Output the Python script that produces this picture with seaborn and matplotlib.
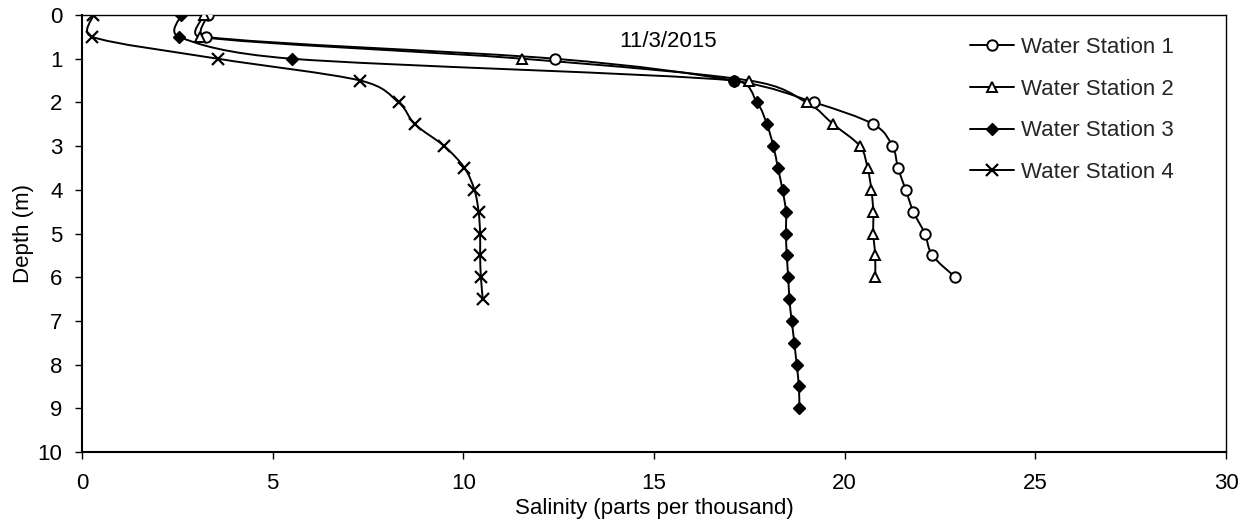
import math
import matplotlib
matplotlib.use("Agg")
import matplotlib.pyplot as plt
from matplotlib.path import Path
from matplotlib.patches import PathPatch
from matplotlib.lines import Line2D
import seaborn as sns
import pandas as pd

# Salinity profiles (parts per thousand) by depth (m) for each station
depth_s1 = [0, 0.5, 1, 1.5, 2, 2.5, 3, 3.5, 4, 4.5, 5, 5.5, 6]
sal_s1 = [3.3, 3.25, 12.4, 17.1, 19.2, 20.75, 21.25, 21.4, 21.6, 21.8, 22.1, 22.3, 22.9]

depth_s2 = [0, 0.5, 1, 1.5, 2, 2.5, 3, 3.5, 4, 4.5, 5, 5.5, 6]
sal_s2 = [3.2, 3.1, 11.55, 17.5, 19.0, 19.7, 20.4, 20.6, 20.7, 20.75, 20.75, 20.8, 20.8]

depth_s3 = [0, 0.5, 1, 1.5, 2, 2.5, 3, 3.5, 4, 4.5, 5, 5.5, 6, 6.5, 7, 7.5, 8, 8.5, 9]
sal_s3 = [2.6, 2.55, 5.5, 17.1, 17.7, 17.96, 18.13, 18.25, 18.37, 18.46, 18.46, 18.48,
          18.52, 18.55, 18.61, 18.68, 18.74, 18.8, 18.81]

depth_s4 = [0, 0.5, 1, 1.5, 2, 2.5, 3, 3.5, 4, 4.5, 5, 5.5, 6, 6.5]
sal_s4 = [0.3, 0.27, 3.56, 7.3, 8.3, 8.73, 9.5, 10.03, 10.29, 10.4, 10.44, 10.44, 10.46, 10.51]

station_names = ["Water Station 1", "Water Station 2", "Water Station 3", "Water Station 4"]
date_label = "11/3/2015"

# approximate screen scale (px per unit) used to keep curve tension even on both axes
SX, SY = 38.13, 43.7


def smooth_path(xs, ys, tension=1 / 6, limit=0.6):
    """Cubic Bezier path through the points with limited tangent handles."""
    pts = [(x * SX, y * SY) for x, y in zip(xs, ys)]
    n = len(pts)

    def handle(a, b, seg_len):
        dx, dy = (b[0] - a[0]) * tension, (b[1] - a[1]) * tension
        ln = math.hypot(dx, dy)
        cap = limit * seg_len
        if ln > cap and ln > 0:
            dx, dy = dx * cap / ln, dy * cap / ln
        return dx, dy

    verts = [pts[0]]
    codes = [Path.MOVETO]
    for i in range(n - 1):
        p0 = pts[i - 1] if i > 0 else pts[i]
        p1 = pts[i]
        p2 = pts[i + 1]
        p3 = pts[i + 2] if i + 2 < n else pts[i + 1]
        seg = math.hypot(p2[0] - p1[0], p2[1] - p1[1])
        h1 = handle(p0, p2, seg)
        h2 = handle(p1, p3, seg)
        c1 = (p1[0] + h1[0], p1[1] + h1[1])
        c2 = (p2[0] - h2[0], p2[1] - h2[1])
        verts += [c1, c2, p2]
        codes += [Path.CURVE4] * 3
    verts = [(x / SX, y / SY) for x, y in verts]
    return Path(verts, codes)


sns.set_theme(style="white")
plt.rcParams["font.family"] = ["Liberation Sans", "DejaVu Sans"]

fig = plt.figure(figsize=(12.48, 5.29), dpi=100)
ax = fig.add_axes([0.0657, 0.1456, 0.9167, 0.826])

styles = [
    dict(marker="o", markerfacecolor="white", markersize=7.5, markeredgewidth=1.4),
    dict(marker="^", markerfacecolor="white", markersize=7.5, markeredgewidth=1.4),
    dict(marker="D", markerfacecolor="black", markersize=6.2, markeredgewidth=1.0),
    dict(marker="x", markersize=8.5, markeredgewidth=1.6),
]
series = [(sal_s1, depth_s1), (sal_s2, depth_s2), (sal_s3, depth_s3), (sal_s4, depth_s4)]

handles = []
for (sal, dep), name, st in zip(series, station_names, styles):
    # smoothed profile line
    ax.add_patch(PathPatch(smooth_path(sal, dep), facecolor="none", edgecolor="black",
                           linewidth=1.4, zorder=2))
    # measurement points
    df = pd.DataFrame({"Salinity": sal, "Depth": dep})
    sns.lineplot(data=df, x="Salinity", y="Depth", sort=False, orient="y",
                 estimator=None, ax=ax, color="black", linestyle="none",
                 markeredgecolor="black", zorder=3, legend=False, **st)
    handles.append(Line2D([], [], color="black", linewidth=1.4,
                          markeredgecolor="black", label=name, **st))

ax.set_xlim(0, 30)
ax.set_ylim(10, 0)
ax.set_xticks(range(0, 31, 5))
ax.set_yticks(range(0, 11, 1))
ax.set_xlabel("Salinity (parts per thousand)", fontsize=16, color="black", labelpad=3)
ax.set_ylabel("Depth (m)", fontsize=16, color="black", labelpad=3)
ax.tick_params(axis="x", labelsize=16, colors="black", direction="out",
               length=5, width=1.0, bottom=True, pad=10)
ax.tick_params(axis="y", labelsize=16, colors="black", direction="out",
               length=5, width=1.0, left=True, pad=9)

for side in ["left", "bottom"]:
    ax.spines[side].set_color("black")
    ax.spines[side].set_linewidth(1.5)
for side in ["top", "right"]:
    ax.spines[side].set_color("black")
    ax.spines[side].set_linewidth(1.0)

ax.text(15.37, 0.61, date_label, fontsize=16, ha="center", va="center", color="black")

ax.legend(handles=handles, loc="upper left", frameon=False, fontsize=16,
          handlelength=2.0, handletextpad=0.3, labelspacing=0.93,
          borderaxespad=0.0, borderpad=0.4, bbox_to_anchor=(0.768, 0.97))

fig.savefig("out.png", dpi=100, facecolor="white")
